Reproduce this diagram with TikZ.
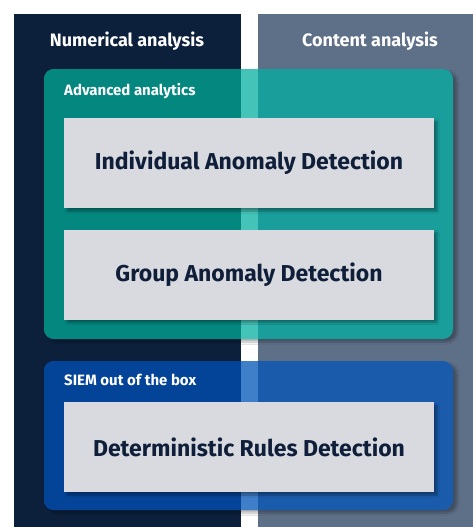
\documentclass[tikz,border=0pt]{standalone}
\usepackage{fontspec}
\setmainfont{Fira Sans}
\usetikzlibrary{shadows,shadows.blur}
\definecolor{navy}{HTML}{0C1F3B}
\definecolor{slate}{HTML}{5E7088}
\definecolor{tealL}{HTML}{03877F}
\definecolor{tealR}{HTML}{199E9B}
\definecolor{tealM}{HTML}{44C3B8}
\definecolor{blueL}{HTML}{034499}
\definecolor{blueR}{HTML}{1A5BAB}
\definecolor{blueM}{HTML}{3F7EC9}
\definecolor{cardbg}{HTML}{D9DADF}
\definecolor{ink}{HTML}{0F1F3A}
\tikzset{
  headtxt/.style={text=white,font=\bfseries\fontsize{18}{21}\selectfont,inner sep=0},
  grouptxt/.style={text=white,font=\bfseries\fontsize{15}{18}\selectfont,inner sep=0,anchor=west},
  card/.style={fill=cardbg,minimum width=370pt,minimum height=90pt,inner sep=0,
    text=ink,font=\bfseries\fontsize{23}{27}\selectfont,
    blur shadow={shadow xshift=3pt,shadow yshift=-3pt,shadow blur steps=6,shadow opacity=35}},
  groupbox/.style={blur shadow={shadow xshift=4pt,shadow yshift=-3pt,shadow blur steps=8,shadow opacity=30}},
}
\begin{document}
\begin{tikzpicture}[x=1pt,y=-1pt]
\useasboundingbox (0,0) rectangle (473,527);
\fill[white] (0,0) rectangle (473,527);
% panels
\fill[navy] (14,14) rectangle (241,527);
\fill[slate] (258,14) rectangle (473,527);
\node[headtxt] (numh) at (127,41) {Numerical analysis};
\node[headtxt] (conh) at (370,41) {Content analysis};
% teal group
\path[groupbox,fill=tealR,rounded corners=10pt] (44,69) rectangle (453,339);
\begin{scope}
\clip[rounded corners=10pt] (44,69) rectangle (453,339);
\fill[tealL] (44,69) rectangle (241,339);
\fill[tealM] (241,69) rectangle (258,339);
\end{scope}
\node[grouptxt] (adv) at (64,91) {Advanced analytics};
% blue group
\path[groupbox,fill=blueR,rounded corners=10pt] (44,361) rectangle (453,510);
\begin{scope}
\clip[rounded corners=10pt] (44,361) rectangle (453,510);
\fill[blueL] (44,361) rectangle (241,510);
\fill[blueM] (241,361) rectangle (258,510);
\end{scope}
\node[grouptxt] (siem) at (64,380) {SIEM out of the box};
% cards
\node[card] (ind) at (249,163) {Individual Anomaly Detection};
\node[card] (grp) at (249,274.5) {Group Anomaly Detection};
\node[card] (det) at (249,447) {Deterministic Rules Detection};
\end{tikzpicture}
\end{document}
